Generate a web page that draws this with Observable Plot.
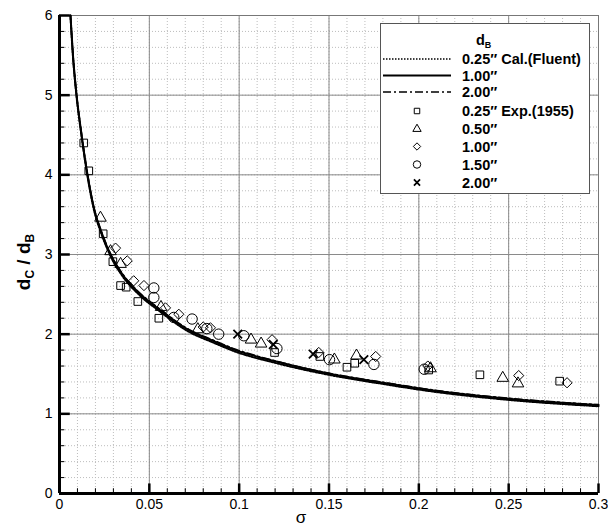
<!DOCTYPE html>
<html><head><meta charset="utf-8">
<script src="https://cdn.jsdelivr.net/npm/d3@7"></script>
<script src="https://cdn.jsdelivr.net/npm/@observablehq/plot@0.6"></script>
<style>body{margin:0;background:#fff;} #chart{position:relative;width:608px;height:528px;}</style>
</head><body><div id="chart"></div>
<script>
// ---- tick values ----
const xTicks = [0, 0.05, 0.1, 0.15, 0.2, 0.25, 0.3];
const xTickLabels = ["0", "0.05", "0.1", "0.15", "0.2", "0.25", "0.3"];
const yTicks = [0, 1, 2, 3, 4, 5, 6];
const yTickLabels = ["0", "1", "2", "3", "4", "5", "6"];

// ---- calculated curves (Fluent) ----
const calSigma = [0.0061, 0.0075, 0.0095, 0.012, 0.0156, 0.0195, 0.023, 0.0284, 0.035, 0.045, 0.055, 0.072, 0.085, 0.098, 0.12, 0.151, 0.18, 0.206, 0.25, 0.3];
const cal025 = [6.0, 5.48, 4.98, 4.53, 3.98, 3.53, 3.28, 2.98, 2.73, 2.48, 2.30, 2.03, 1.90, 1.78, 1.64, 1.485, 1.375, 1.285, 1.175, 1.095];
const cal100 = [6.0, 5.5, 5.0, 4.55, 4.0, 3.55, 3.3, 3.0, 2.75, 2.5, 2.32, 2.05, 1.92, 1.80, 1.66, 1.50, 1.39, 1.30, 1.19, 1.11];
const cal200 = [6.0, 5.51, 5.01, 4.56, 4.01, 3.56, 3.31, 3.01, 2.76, 2.51, 2.33, 2.06, 1.93, 1.81, 1.665, 1.505, 1.395, 1.305, 1.195, 1.115];

// ---- experimental points (1955) ----
const exp025Sigma = [0.0135, 0.0163, 0.0243, 0.0297, 0.034, 0.0371, 0.0436, 0.0553, 0.1197, 0.1449, 0.160, 0.1643, 0.2055, 0.234, 0.2784];
const exp025Ratio = [4.40, 4.05, 3.26, 2.91, 2.61, 2.59, 2.41, 2.20, 1.77, 1.72, 1.585, 1.635, 1.55, 1.49, 1.41];
const exp050Sigma = [0.0228, 0.0284, 0.034, 0.0565, 0.077, 0.1066, 0.1122, 0.153, 0.1653, 0.2065, 0.2467, 0.2552];
const exp050Ratio = [3.46, 3.04, 2.88, 2.34, 2.06, 1.93, 1.88, 1.68, 1.73, 1.57, 1.45, 1.38];
const exp100Sigma = [0.0312, 0.0377, 0.0413, 0.047, 0.059, 0.0664, 0.080, 0.084, 0.1183, 0.1443, 0.176, 0.205, 0.2556, 0.2825];
const exp100Ratio = [3.08, 2.92, 2.67, 2.61, 2.33, 2.25, 2.09, 2.08, 1.93, 1.77, 1.72, 1.60, 1.48, 1.39];
const exp150Sigma = [0.0525, 0.0525, 0.0636, 0.0738, 0.082, 0.0886, 0.1026, 0.121, 0.1503, 0.175, 0.203];
const exp150Ratio = [2.58, 2.46, 2.21, 2.19, 2.07, 2.00, 1.98, 1.82, 1.68, 1.62, 1.56];
const exp200Sigma = [0.0992, 0.119, 0.1412, 0.1694];
const exp200Ratio = [2.00, 1.87, 1.75, 1.68];

const font = "'Liberation Sans', Arial, sans-serif";
const toRows = (xs, ys) => xs.map((x, i) => ({x, y: ys[i]}));
const rows025 = toRows(calSigma, cal025), rows100 = toRows(calSigma, cal100), rows200 = toRows(calSigma, cal200);
const symbolsSpec = [
  {rows: toRows(exp025Sigma, exp025Ratio), symbol: "square", r: 4.3, sw: 1},
  {rows: toRows(exp050Sigma, exp050Ratio), symbol: "triangle", r: 4.3, sw: 1},
  {rows: toRows(exp100Sigma, exp100Ratio), symbol: "diamond2", r: 4.6, sw: 1},
  {rows: toRows(exp150Sigma, exp150Ratio), symbol: "circle", r: 5.2, sw: 1},
  {rows: toRows(exp200Sigma, exp200Ratio), symbol: "times", r: 4, sw: 1.8}
];

const minorX = d3.range(0, 0.3001, 0.01).map(v => +v.toFixed(3));
const minorY = d3.range(0, 6.001, 0.2).map(v => +v.toFixed(2));

const plot = Plot.plot({
  width: 608, height: 528,
  marginLeft: 59, marginRight: 10, marginTop: 15, marginBottom: 35,
  style: {fontFamily: font, fontSize: "14px", background: "#fff", color: "#000"},
  x: {domain: [0, 0.3]},
  y: {domain: [0, 6]},
  marks: [
    Plot.ruleX(minorX, {stroke: "#bdbdbd", strokeDasharray: "1,2", strokeWidth: 1}),
    Plot.ruleY(minorY, {stroke: "#bdbdbd", strokeDasharray: "1,2", strokeWidth: 1}),
    Plot.ruleX(xTicks, {stroke: "#8a8a8a", strokeWidth: 1}),
    Plot.ruleY(yTicks, {stroke: "#8a8a8a", strokeWidth: 1}),
    Plot.ruleX([0.3], {stroke: "#777", strokeWidth: 1}),
    Plot.ruleY([6], {stroke: "#777", strokeWidth: 1}),
    Plot.line(rows200, {x: "x", y: "y", stroke: "#000", strokeWidth: 1.6, strokeDasharray: "8,3,2,3", curve: "monotone-x"}),
    Plot.line(rows025, {x: "x", y: "y", stroke: "#000", strokeWidth: 2, strokeDasharray: "1.5,1.5", curve: "monotone-x"}),
    Plot.line(rows100, {x: "x", y: "y", stroke: "#000", strokeWidth: 2, curve: "monotone-x"}),
    ...symbolsSpec.map(s => Plot.dot(s.rows, {x: "x", y: "y", symbol: s.symbol, r: s.r, stroke: "#000", fill: "none", strokeWidth: s.sw})),
    Plot.ruleX(minorX, {y1: 0, y2: 0.06, stroke: "#000", strokeWidth: 1}),
    Plot.ruleY(minorY, {x1: 0, x2: 0.003, stroke: "#000", strokeWidth: 1}),
    Plot.ruleX(xTicks, {y1: 0, y2: 0.12, stroke: "#000", strokeWidth: 2.5}),
    Plot.ruleY(yTicks, {x1: 0, x2: 0.006, stroke: "#000", strokeWidth: 2.5}),
    Plot.ruleX([0], {stroke: "#000", strokeWidth: 3}),
    Plot.ruleY([0], {stroke: "#000", strokeWidth: 3}),
    Plot.axisX({ticks: xTicks, tickSize: 0, tickPadding: 6, tickFormat: (d, i) => xTickLabels[i], fontSize: 14, label: null}),
    Plot.axisY({ticks: yTicks, tickSize: 0, tickPadding: 7, tickFormat: (d, i) => yTickLabels[i], fontSize: 14, label: null})
  ]
});
document.getElementById("chart").appendChild(plot);

const svg = d3.select(plot);
svg.append("text").attr("x", 301).attr("y", 523).attr("text-anchor", "middle")
  .style("font-family", font).style("font-size", "17px").text("σ");
const yl = svg.append("text").attr("transform", "translate(30,262) rotate(-90)").attr("text-anchor", "middle")
  .style("font-family", font).style("font-size", "19px").style("font-weight", "bold");
yl.append("tspan").text("d");
yl.append("tspan").attr("dy", 4).style("font-size", "12px").text("C");
yl.append("tspan").attr("dy", -4).text(" / d");
yl.append("tspan").attr("dy", 4).style("font-size", "12px").text("B");

const lg = svg.append("g").attr("text-anchor", "start").style("font-family", font).style("font-weight", "bold").style("font-size", "14.5px");
lg.append("rect").attr("x", 380.5).attr("y", 23.5).attr("width", 209).attr("height", 170)
  .attr("fill", "#fff").attr("stroke", "#555").attr("stroke-width", 1);
const ttl = lg.append("text").attr("x", 476).attr("y", 45).attr("text-anchor", "start");
ttl.append("tspan").text("d");
ttl.append("tspan").attr("dy", 3).style("font-size", "9px").text("B");

const lineItems = [
  {label: "0.25\u2033 Cal.(Fluent)", dash: "1.5,1.5", w: 1.6, y: 59},
  {label: "1.00\u2033", dash: null, w: 2, y: 75.5},
  {label: "2.00\u2033", dash: "8,3,2,3", w: 1.6, y: 92}
];
lineItems.forEach(it => {
  lg.append("line").attr("x1", 383).attr("x2", 451).attr("y1", it.y).attr("y2", it.y)
    .attr("stroke", "#000").attr("stroke-width", it.w).attr("stroke-dasharray", it.dash);
  lg.append("text").attr("x", 462).attr("y", it.y + 5).attr("text-anchor", "start").text(it.label);
});
const symMap = {square: d3.symbolSquare, triangle: d3.symbolTriangle, diamond2: d3.symbolDiamond2, circle: d3.symbolCircle, times: d3.symbolTimes};
const symLabels = ["0.25\u2033 Exp.(1955)", "0.50\u2033", "1.00\u2033", "1.50\u2033", "2.00\u2033"];
const symY = [111, 129, 146.5, 164.5, 182.5];
symbolsSpec.forEach((s, i) => {
  const rr = s.r * 0.72;
  lg.append("path").attr("transform", `translate(417,${symY[i]})`)
    .attr("d", d3.symbol(symMap[s.symbol], rr * rr * Math.PI)())
    .attr("fill", "none").attr("stroke", "#000").attr("stroke-width", s.sw);
  lg.append("text").attr("x", 462).attr("y", symY[i] + 5).attr("text-anchor", "start").text(symLabels[i]);
});
</script>
</body></html>
